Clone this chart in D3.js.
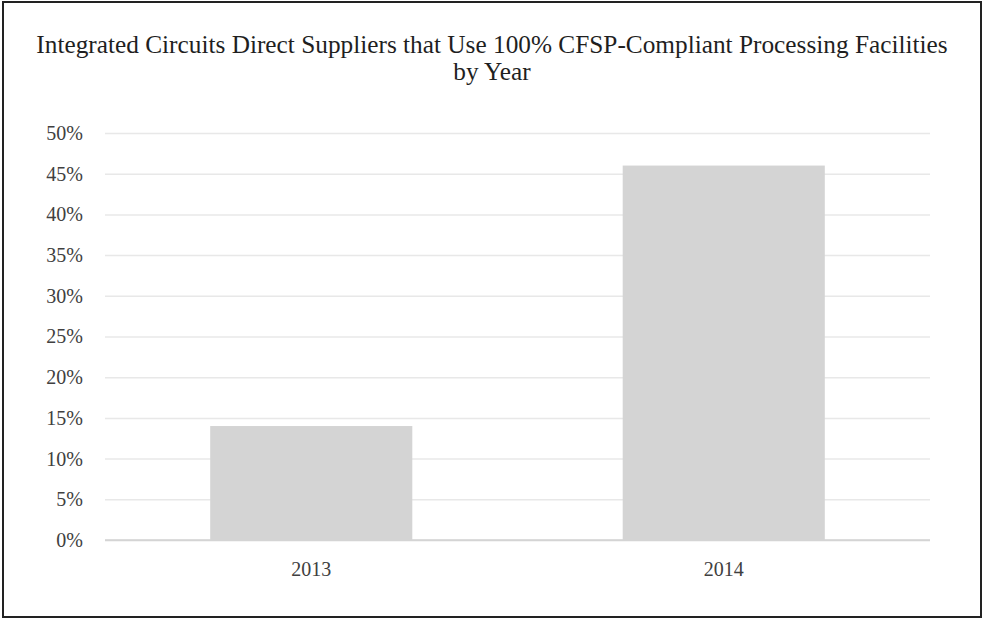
<!DOCTYPE html>
<html>
<head>
<meta charset="utf-8">
<script src="https://cdn.jsdelivr.net/npm/d3@7"></script>
<style>
  html, body { margin: 0; padding: 0; background: #fff; }
  svg { display: block; }
  svg text { font-family: "Liberation Serif", "Times New Roman", Tinos, "DejaVu Serif", serif !important; }
</style>
</head>
<body>
<svg id="chart" width="984" height="620"></svg>
<script>
const titleLines = ["Integrated Circuits Direct Suppliers that Use 100% CFSP-Compliant Processing Facilities", "by Year"];
const categories = ["2013", "2014"];
const values = [0.14, 0.46];
const yTicks = [0, 0.05, 0.10, 0.15, 0.20, 0.25, 0.30, 0.35, 0.40, 0.45, 0.50];

const svg = d3.select("#chart");
const W = 984, H = 620;
const margin = { left: 105, right: 54, top: 133, bottom: 80 };
const serif = "'Liberation Serif', 'Times New Roman', Tinos, 'DejaVu Serif', serif";

// frame
svg.append("rect")
  .attr("x", 3).attr("y", 2).attr("width", 978).attr("height", 615)
  .attr("fill", "#fff").attr("stroke", "#222").attr("stroke-width", 2);

// title
svg.append("g").selectAll("text").data(titleLines).join("text")
  .attr("x", 492)
  .attr("y", (d, i) => 53 + i * 27)
  .attr("text-anchor", "middle")
  .attr("font-family", serif)
  .attr("font-size", 25.3)
  .attr("fill", "#1f1f1f")
  .text(d => d);

const x = d3.scaleBand()
  .domain(categories)
  .range([margin.left, W - margin.right])
  .paddingInner(0.51)
  .paddingOuter(0.255);

const y = d3.scaleLinear()
  .domain([0, 0.5])
  .range([H - margin.bottom, margin.top]);

// gridlines
const grid = svg.append("g")
  .attr("transform", `translate(${margin.left},0)`)
  .call(d3.axisLeft(y).tickValues(yTicks).tickSize(-(W - margin.left - margin.right)).tickFormat(""));
grid.select(".domain").remove();
grid.selectAll(".tick line")
  .attr("stroke", d => d === 0 ? "#d4d4d4" : "#e8e8e8")
  .attr("stroke-width", 1.5);

// bars
svg.append("g").selectAll("rect").data(categories).join("rect")
  .attr("x", d => x(d))
  .attr("width", x.bandwidth())
  .attr("y", (d, i) => y(values[i]))
  .attr("height", (d, i) => y(0) - y(values[i]))
  .attr("fill", "#d4d4d4");

// baseline on top
svg.append("line")
  .attr("x1", margin.left).attr("x2", W - margin.right)
  .attr("y1", y(0)).attr("y2", y(0))
  .attr("stroke", "#d4d4d4").attr("stroke-width", 1.5);

// y axis labels
const yAxis = svg.append("g")
  .attr("transform", `translate(${margin.left},0)`)
  .call(d3.axisLeft(y).tickValues(yTicks).tickSize(0).tickPadding(22).tickFormat(d3.format(".0%")));
yAxis.select(".domain").remove();
yAxis.attr("font-family", serif).attr("font-size", 20);
yAxis.selectAll("text").attr("fill", "#404040");

// x axis labels
const xAxis = svg.append("g")
  .attr("transform", `translate(0,${y(0)})`)
  .call(d3.axisBottom(x).tickSize(0).tickPadding(22));
xAxis.select(".domain").remove();
xAxis.attr("font-family", serif).attr("font-size", 20);
xAxis.selectAll("text").attr("fill", "#404040");
</script>
</body>
</html>
